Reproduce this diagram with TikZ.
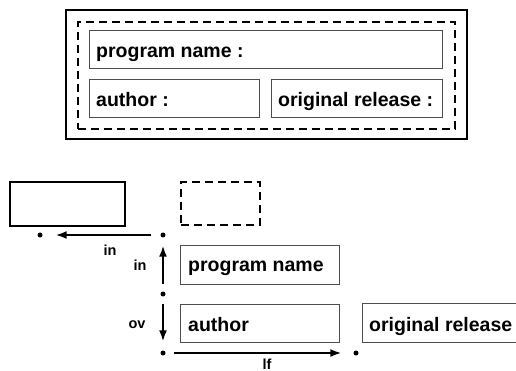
\documentclass[tikz,border=0pt]{standalone}
\usepackage{fontspec}
\setmainfont{Liberation Sans}
\usetikzlibrary{arrows.meta}
\begin{document}
\begin{tikzpicture}[x=1pt,y=-1pt,
  outerbox/.style={draw=black, line width=2pt, inner sep=0, anchor=north west},
  dashbox/.style={draw=black, line width=1.8pt, dash pattern=on 8pt off 5pt, inner sep=0, anchor=north west},
  txtbox/.style={draw=black!70, line width=0.9pt, inner sep=0, anchor=north west},
  lbl/.style={font=\fontsize{19.5}{22}\selectfont\bfseries, anchor=base west, inner sep=0},
  small/.style={font=\fontsize{14.5}{16}\selectfont\bfseries, anchor=base, inner sep=0},
  dot/.style={circle, fill=black, inner sep=0, minimum size=5pt},
  arr/.style={line width=1.9pt, -{Latex[length=11pt,width=8pt]}}]
\useasboundingbox (0,0) rectangle (516,371);
% top diagram
\node[outerbox, minimum width=401pt, minimum height=129pt] (outer) at (65,9) {};
\node[dashbox, minimum width=377pt, minimum height=107pt] (group) at (77,21) {};
\node[txtbox, minimum width=353pt, minimum height=38pt] (pn) at (89,30) {};
\node[txtbox, minimum width=170pt, minimum height=38pt] (au) at (89,79) {};
\node[txtbox, minimum width=171pt, minimum height=38pt] (orl) at (271,79) {};
\node[lbl] (pnt) at ([xshift=7pt,yshift=-8pt]pn.west) {program name :};
\node[lbl] (aut) at ([xshift=7pt,yshift=-8pt]au.west) {author :};
\node[lbl] (orlt) at ([xshift=7pt,yshift=-8pt]orl.west) {original release :};
% bottom diagram
\node[outerbox, minimum width=115pt, minimum height=44pt] (sbox) at (9,181) {};
\node[dashbox, minimum width=79pt, minimum height=43pt] (dbox) at (180,181) {};
\node[txtbox, minimum width=159pt, minimum height=39pt] (pn2) at (180,245) {};
\node[txtbox, minimum width=159pt, minimum height=38pt] (au2) at (180,304) {};
\node[txtbox, minimum width=160pt, minimum height=39pt] (or2) at (362,303) {};
\node[lbl] (pn2t) at ([xshift=8pt,yshift=-7pt]pn2.west) {program name};
\node[lbl] (au2t) at ([xshift=8pt,yshift=-8pt]au2.west) {author};
\node[lbl] (or2t) at ([xshift=7pt,yshift=-9pt]or2.west) {original release};
\node[dot] (d1) at (40,235) {};
\node[dot] (d2) at (163,235) {};
\node[dot] (d3) at (163,294) {};
\node[dot] (d4) at (163,353) {};
\node[dot] (d5) at (356,353) {};
\draw[arr, shorten <=9pt, shorten >=13pt] (d2) -- (d1);
\draw[arr, shorten <=7pt, shorten >=8pt] (d3) -- (d2);
\draw[arr, shorten <=7pt, shorten >=9pt] (d3) -- (d4);
\draw[arr, shorten <=8pt, shorten >=12pt] (d4) -- (d5);
\node[small] (lin1) at (110,255) {in};
\node[small] (lin2) at (140,270) {in};
\node[small] (lov) at (137,328) {ov};
\node[small] (llf) at (267,369) {lf};
\end{tikzpicture}
\end{document}
